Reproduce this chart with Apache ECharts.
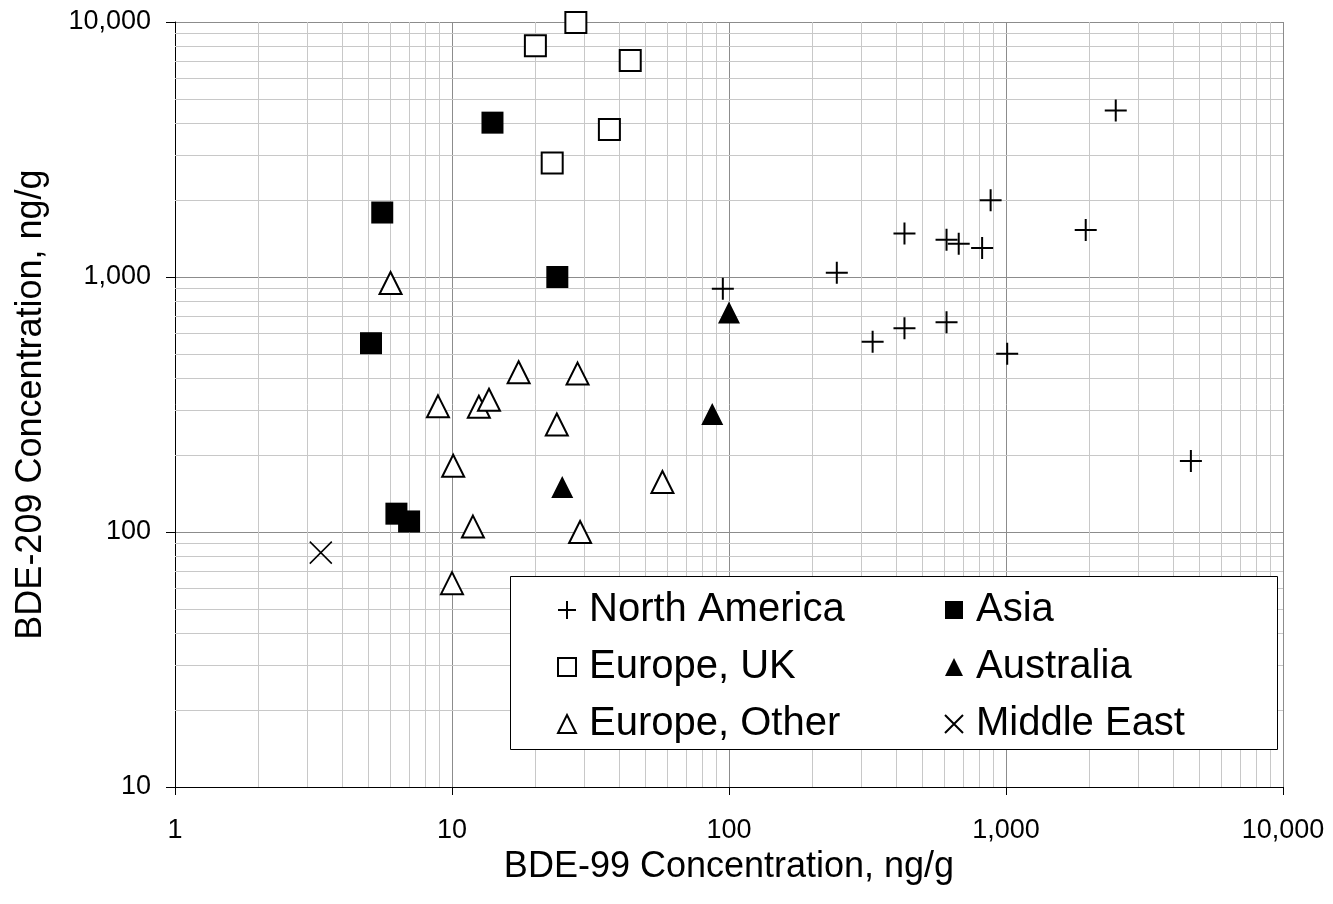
<!DOCTYPE html>
<html>
<head>
<meta charset="utf-8">
<script src="https://cdn.jsdelivr.net/npm/echarts@6/dist/echarts.min.js"></script>
<style>
html,body{margin:0;padding:0;background:#fff;}
#chart{width:1333px;height:904px;}
</style>
</head>
<body>
<div id="chart"></div>
<script>
// ---- data ----
const northAmericaX = [95, 245, 430, 610, 675, 820, 880, 1940, 2490, 330, 430, 610, 1010, 4650];
const northAmericaY = [900, 1040, 1480, 1400, 1350, 1300, 2000, 1530, 4500, 557, 630, 665, 500, 190];

const asiaX = [14, 5.6, 24, 5.1, 6.3, 7.0];
const asiaY = [4030, 1790, 1000, 550, 118, 110];

const europeUKX = [28, 20, 44, 37, 23];
const europeUKY = [9960, 8070, 7060, 3790, 2800];

const australiaX = [25, 87, 100];
const australiaY = [150, 290, 726];

const europeOtherX = [6.0, 17.4, 28.4, 8.9, 12.5, 13.6, 23.9, 10.1, 57.5, 11.9, 29, 10];
const europeOtherY = [947, 423, 418, 311, 310, 330, 264, 182, 157, 105, 100, 63];

const middleEastX = [3.36];
const middleEastY = [83];

const xAxisTitle = 'BDE-99 Concentration, ng/g';
const yAxisTitle = 'BDE-209 Concentration, ng/g';
const xDecades = [1, 10, 100, 1000];
const yDecades = [10, 100, 1000];
const minorMultipliers = [2, 3, 4, 5, 6, 7, 8, 9];

// ---- build ----
const FONT = "'Liberation Sans', Arial, sans-serif";
function pairs(xs, ys) { return xs.map((x, i) => [x, ys[i]]); }
const minorX = [];
xDecades.forEach(d => minorMultipliers.forEach(m => minorX.push(d * m)));
const minorY = [];
yDecades.forEach(d => minorMultipliers.forEach(m => minorY.push(d * m)));

const plusPath = 'path://M0,10L20,10M10,0L10,20';
const crossPath = 'path://M0,0L20,20M20,0L0,20';

const fmt = v => Math.round(v).toLocaleString('en-US');

const chart = echarts.init(document.getElementById('chart'), null, {renderer: 'canvas'});

const legendText = {fontSize: 40, lineHeight: 40, fontFamily: FONT, color: '#000', padding: [0, 0, 0, 8]};

chart.setOption({
  animation: false,
  backgroundColor: '#fff',
  grid: {left: 175, right: 50, top: 22, bottom: 117, containLabel: false},
  xAxis: {
    type: 'log', logBase: 10, min: 1, max: 10000,
    name: xAxisTitle, nameLocation: 'middle', nameGap: 43,
    nameTextStyle: {fontSize: 36, fontFamily: FONT, color: '#000'},
    axisLine: {show: true, onZero: false, lineStyle: {color: '#000', width: 1}},
    axisTick: {show: true, inside: false, length: 8, lineStyle: {color: '#000'}},
    axisLabel: {fontSize: 27, fontFamily: FONT, color: '#000', margin: 30, formatter: fmt},
    splitLine: {show: true, lineStyle: {color: '#8c8c8c', width: 1}},
    minorTick: {show: false}, minorSplitLine: {show: false}
  },
  yAxis: {
    type: 'log', logBase: 10, min: 10, max: 10000,
    name: yAxisTitle, nameLocation: 'middle', nameGap: 126,
    nameTextStyle: {fontSize: 36, fontFamily: FONT, color: '#000'},
    axisLine: {show: true, onZero: false, lineStyle: {color: '#000', width: 1}},
    axisTick: {show: true, inside: false, length: 9, lineStyle: {color: '#000'}},
    axisLabel: {fontSize: 27, fontFamily: FONT, color: '#000', margin: 24, formatter: fmt},
    splitLine: {show: true, lineStyle: {color: '#8c8c8c', width: 1}},
    minorTick: {show: false}, minorSplitLine: {show: false}
  },
  legend: [
    {
      data: ['North America', 'Europe, UK', 'Europe, Other'],
      orient: 'vertical', left: 552, top: 585,
      itemWidth: 18, itemHeight: 18, itemGap: 17,
      selectedMode: false, textStyle: legendText, z: 10
    },
    {
      data: ['Asia', 'Australia', 'Middle East'],
      orient: 'vertical', left: 939, top: 585,
      itemWidth: 18, itemHeight: 18, itemGap: 17,
      selectedMode: false, textStyle: legendText, z: 10
    }
  ],
  graphic: [{
    type: 'rect', left: 510, top: 576, z: 8,
    shape: {width: 767, height: 173},
    style: {fill: '#fff', stroke: '#000', lineWidth: 1}
  }],
  series: [
    {
      name: '_minorGrid', type: 'scatter', data: [], silent: true, z: 1,
      markLine: {
        silent: true, symbol: 'none', z: 1, animation: false,
        label: {show: false},
        lineStyle: {color: '#c8c8c8', width: 1, type: 'solid'},
        emphasis: {disabled: true},
        data: minorX.map(v => ({xAxis: v})).concat(minorY.map(v => ({yAxis: v})))
      }
    },
    {
      name: 'North America', type: 'scatter', z: 3,
      symbol: plusPath, symbolSize: 22,
      itemStyle: {color: 'rgba(0,0,0,0)', borderColor: '#000', borderWidth: 2, opacity: 1},
      data: pairs(northAmericaX, northAmericaY)
    },
    {
      name: 'Asia', type: 'scatter', z: 3,
      symbol: 'rect', symbolSize: 22,
      itemStyle: {color: '#000', opacity: 1},
      data: pairs(asiaX, asiaY)
    },
    {
      name: 'Europe, UK', type: 'scatter', z: 3,
      symbol: 'rect', symbolSize: 21,
      itemStyle: {color: '#fff', borderColor: '#000', borderWidth: 2, opacity: 1},
      data: pairs(europeUKX, europeUKY)
    },
    {
      name: 'Australia', type: 'scatter', z: 3,
      symbol: 'triangle', symbolSize: 22,
      itemStyle: {color: '#000', opacity: 1},
      data: pairs(australiaX, australiaY)
    },
    {
      name: 'Europe, Other', type: 'scatter', z: 3,
      symbol: 'triangle', symbolSize: 22,
      itemStyle: {color: '#fff', borderColor: '#000', borderWidth: 2, opacity: 1},
      data: pairs(europeOtherX, europeOtherY)
    },
    {
      name: 'Middle East', type: 'scatter', z: 3,
      symbol: crossPath, symbolSize: 22,
      itemStyle: {color: 'rgba(0,0,0,0)', borderColor: '#000', borderWidth: 1.5, opacity: 1},
      data: pairs(middleEastX, middleEastY)
    }
  ]
});
</script>
</body>
</html>
